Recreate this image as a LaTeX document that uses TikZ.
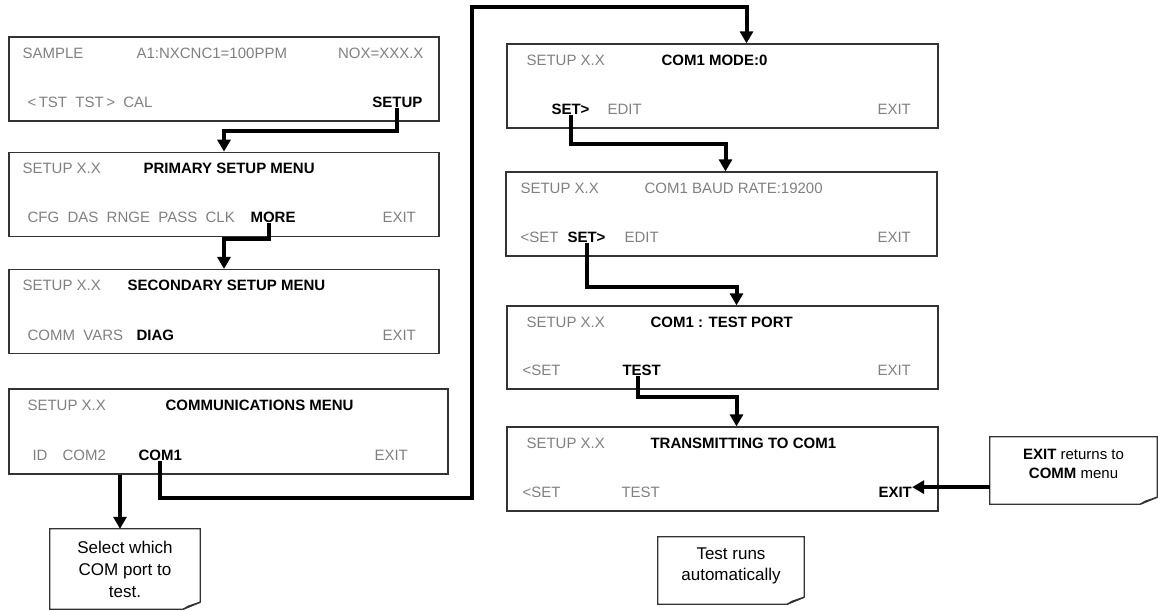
\documentclass[tikz,border=0pt]{standalone}
\usepackage{fontspec}
\setmainfont{Liberation Sans}
\usetikzlibrary{arrows.meta,positioning,calc}
\definecolor{lcdgray}{RGB}{128,128,128}
\definecolor{frame}{RGB}{51,51,51}
\newcommand{\lcdfont}{\fontsize{15}{19}\selectfont}
\newcommand{\notefont}{\fontsize{17}{21}\selectfont}
% outline of a callout with its folded corner
\newcommand{\foldnote}[1]{%
  \draw[boxline] (#1.north west) -- (#1.north east) -- ([yshift=7pt]#1.south east)
     -- ([xshift=-17pt]#1.south east) -- (#1.south west) -- cycle;
  \draw[boxline,fill=black!25] ([yshift=7pt]#1.south east) -- ([xshift=-17pt]#1.south east)
     -- ([xshift=-12pt,yshift=3pt]#1.south east) -- cycle;}

\begin{document}
\begin{tikzpicture}[x=1pt,y=-1pt,font=\lcdfont,
  lcd/.style={draw=frame,line width=1.3pt,minimum width=430pt,minimum height=84pt,inner sep=0pt},
  dim/.style={text=lcdgray,anchor=base west,inner sep=0pt},
  key/.style={font=\lcdfont\bfseries,anchor=base west,inner sep=0pt},
  flow/.style={line width=4pt,line join=miter,-{Triangle[width=13pt,length=12pt]}},
  note/.style={align=center,inner sep=0pt,font=\notefont},
  boxline/.style={draw=frame,line width=1.2pt}]
\useasboundingbox (0,0) rectangle (1158,610);

% left column
\node[lcd] (sample) at (224,79) {};
\node[dim] at ([shift={(14,22)}]sample.north west) {SAMPLE};
\node[dim] at ([shift={(128,22)}]sample.north west) {A1:NXCNC1=100PPM};
\node[dim,anchor=base east] at ([shift={(-16,22)}]sample.north east) {NOX=XXX.X};
\node[dim] at ([shift={(19,-14)}]sample.south west) {<\,TST\ \ TST\,>\ \ CAL};
\node[key,anchor=base east] (setupkey) at ([shift={(-17,-14)}]sample.south east) {SETUP};

\node[lcd,below=30pt of sample] (primary) {};
\node[dim] at ([shift={(14,22)}]primary.north west) {SETUP X.X};
\node[key] at ([shift={(135,22)}]primary.north west) {PRIMARY SETUP MENU};
\node[dim] at ([shift={(19,-14)}]primary.south west) {CFG\ \ DAS\ \ RNGE\ \ PASS\ \ CLK};
\node[key] (morekey) at ([shift={(242,-14)}]primary.south west) {MORE};
\node[dim] at ([shift={(374,-14)}]primary.south west) {EXIT};

\node[lcd,below=32pt of primary] (secondary) {};
\node[dim] at ([shift={(14,22)}]secondary.north west) {SETUP X.X};
\node[key] at ([shift={(119,22)}]secondary.north west) {SECONDARY SETUP MENU};
\node[dim] at ([shift={(19,-14)}]secondary.south west) {COMM\ \ VARS};
\node[key] at ([shift={(128,-14)}]secondary.south west) {DIAG};
\node[dim] at ([shift={(374,-14)}]secondary.south west) {EXIT};

\node[lcd,minimum width=439pt,minimum height=85pt] (comm) at (228.5,431.5) {};
\node[dim] at ([shift={(19,22)}]comm.north west) {SETUP X.X};
\node[key] at ([shift={(157,22)}]comm.north west) {COMMUNICATIONS MENU};
\node[dim] at ([shift={(24,-14)}]comm.south west) {ID};
\node[dim] at ([shift={(54,-14)}]comm.south west) {COM2};
\node[key] (com1key) at ([shift={(130,-14)}]comm.south west) {COM1};
\node[dim] at ([shift={(366,-14)}]comm.south west) {EXIT};

% right column
\node[lcd,minimum width=431pt] (mode) at (722.5,86) {};
\node[dim] at ([shift={(20,22)}]mode.north west) {SETUP X.X};
\node[key] at ([shift={(155,22)}]mode.north west) {COM1 MODE:0};
\node[key] (modeset) at ([shift={(45,-14)}]mode.south west) {SET>};
\node[dim] at ([shift={(101,-14)}]mode.south west) {EDIT};
\node[dim] at ([shift={(371,-14)}]mode.south west) {EXIT};

\node[lcd,minimum width=431pt] (baud) at (721.5,214) {};
\node[dim] at ([shift={(15,22)}]baud.north west) {SETUP X.X};
\node[dim] at ([shift={(139,22)}]baud.north west) {COM1 BAUD RATE:19200};
\node[dim] at ([shift={(15,-14)}]baud.south west) {<SET};
\node[key] (baudset) at ([shift={(62,-14)}]baud.south west) {SET>};
\node[dim] at ([shift={(119,-14)}]baud.south west) {EDIT};
\node[dim] at ([shift={(372,-14)}]baud.south west) {EXIT};

\node[lcd,minimum width=431pt,minimum height=83pt] (testport) at (722.5,347.5) {};
\node[dim] at ([shift={(20,22)}]testport.north west) {SETUP X.X};
\node[key] at ([shift={(144,22)}]testport.north west) {COM1 : TEST PORT};
\node[dim] at ([shift={(16,-14)}]testport.south west) {<SET};
\node[key] (testkey) at ([shift={(116,-14)}]testport.south west) {TEST};
\node[dim] at ([shift={(371,-14)}]testport.south west) {EXIT};

\node[lcd,minimum width=431pt] (transmit) at (722.5,469) {};
\node[dim] at ([shift={(20,22)}]transmit.north west) {SETUP X.X};
\node[key] at ([shift={(144,22)}]transmit.north west) {TRANSMITTING TO COM1};
\node[dim] at ([shift={(16,-14)}]transmit.south west) {<SET};
\node[dim] at ([shift={(115,-14)}]transmit.south west) {TEST};
\node[key] (exitkey) at ([shift={(372,-14)}]transmit.south west) {EXIT};

% callouts
\node[note,minimum width=150pt,minimum height=80pt,font=\fontsize{17}{22}\selectfont] (pick) at (125,569) {Select which\\COM port to\\test.};
\foldnote{pick}
\node[note,minimum width=146pt,minimum height=67pt,text depth=12pt] (autorun) at (731,570.5) {Test runs\\automatically};
\foldnote{autorun}
\node[note,minimum width=167pt,minimum height=67pt,font=\lcdfont,text depth=14pt] (exitnote) at (1073.5,470.5) {\textbf{EXIT} returns to\\\textbf{COMM} menu};
\foldnote{exitnote}

% key presses
\coordinate (turn) at (472,7);
\draw[flow] (setupkey.south) -- ++(0,23) -| (primary.north);
\draw[flow] ([xshift=-4pt]morekey.south) -- ++(0,16) -| (secondary.north);
\draw[flow] ([xshift=-5pt]pick.north |- comm.south) -- ([xshift=-5pt]pick.north);
\draw[flow] (com1key.south) -- ++(0,37) -| (turn) -| ([xshift=24pt]mode.north);
\draw[flow] (modeset.south) -- ++(0,29) -| ([xshift=4pt]baud.north);
\draw[flow] (baudset.south) -- ++(0,44) -| ([xshift=14pt]testport.north);
\draw[flow] ([xshift=-4pt]testkey.south) -- ++(0,21) -| ([xshift=14pt]transmit.north);
\draw[flow] (exitkey.north east -| exitnote.west) -- (exitkey.north east);
\end{tikzpicture}
\end{document}
